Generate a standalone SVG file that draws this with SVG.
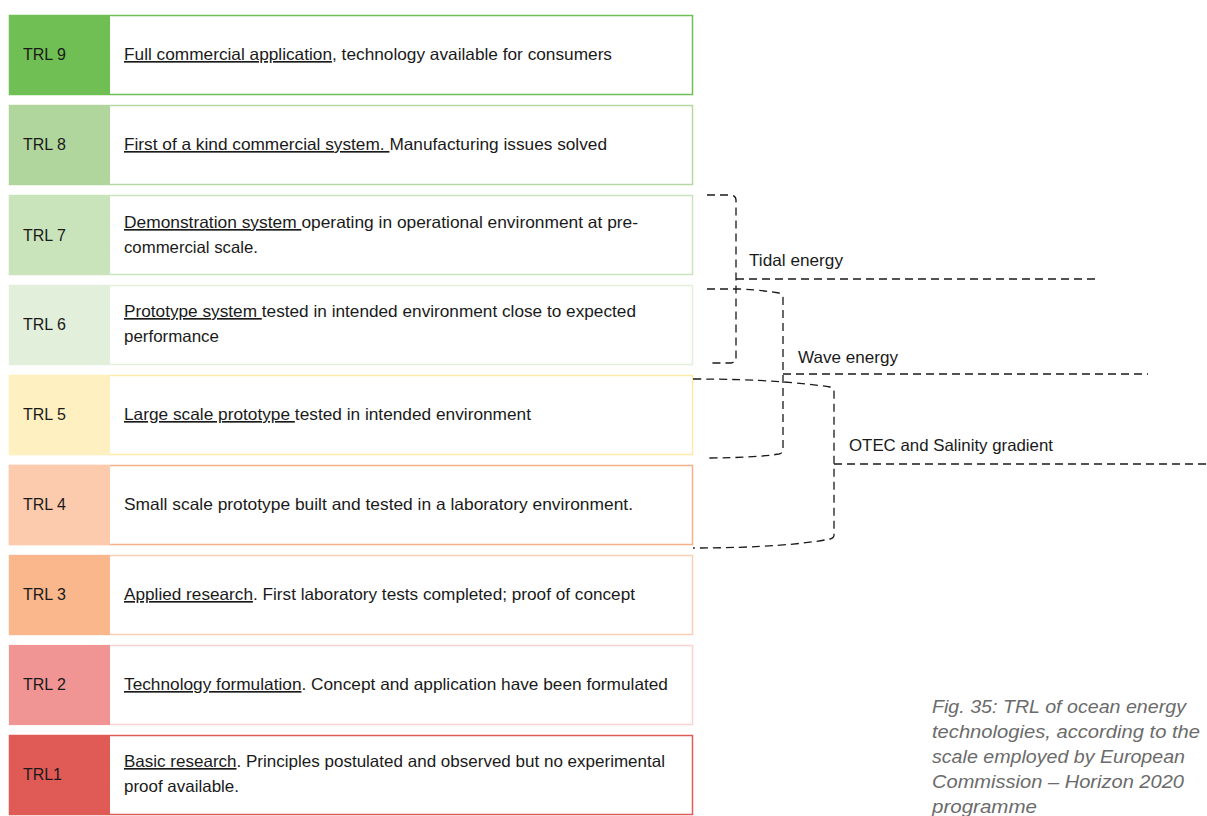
<svg xmlns="http://www.w3.org/2000/svg" width="1207" height="816" viewBox="0 0 1207 816">
<style>
text{font-family:"Liberation Sans",Arial,sans-serif;fill:#1a1a1a}
.lab{font-size:16.5px}
.txt{font-size:16.5px}
.u{text-decoration:underline}
.dash{fill:none;stroke:#1a1a1a;stroke-width:1.3;stroke-dasharray:8 5}
.cap{font-size:19px;font-style:italic;fill:#6b6b6b}
</style>
<rect width="1207" height="816" fill="#ffffff"/>

<g id="trl9">
<rect x="9.5" y="15.5" width="683" height="79" fill="#ffffff" stroke="#70bf54" stroke-width="1.5"/>
<rect x="9" y="15" width="101" height="80" fill="#70bf54"/>
<text class="lab" x="23" y="60" textLength="43" lengthAdjust="spacingAndGlyphs">TRL 9</text>
<text class="txt" x="124" y="60" textLength="488" lengthAdjust="spacingAndGlyphs"><tspan class="u">Full commercial application</tspan>, technology available for consumers</text>
</g>

<g id="trl8">
<rect x="9.5" y="105.5" width="683" height="79" fill="#ffffff" stroke="#b5d8a2" stroke-width="1.5"/>
<rect x="9" y="105" width="101" height="80" fill="#b1d69d"/>
<text class="lab" x="23" y="150" textLength="43" lengthAdjust="spacingAndGlyphs">TRL 8</text>
<text class="txt" x="124" y="150" textLength="483" lengthAdjust="spacingAndGlyphs"><tspan class="u">First of a kind commercial system. </tspan>Manufacturing issues solved</text>
</g>

<g id="trl7">
<rect x="9.5" y="195.5" width="683" height="79" fill="#ffffff" stroke="#c9e4bb" stroke-width="1.5"/>
<rect x="9" y="195" width="101" height="80" fill="#c9e4bb"/>
<text class="lab" x="23" y="241" textLength="43" lengthAdjust="spacingAndGlyphs">TRL 7</text>
<text class="txt" x="124" y="228" textLength="514" lengthAdjust="spacingAndGlyphs"><tspan class="u">Demonstration system </tspan>operating in operational environment at pre-</text>
<text class="txt" x="124" y="253" textLength="134" lengthAdjust="spacingAndGlyphs">commercial scale.</text>
</g>

<g id="trl6">
<rect x="9.5" y="285.5" width="683" height="79" fill="#ffffff" stroke="#e2efda" stroke-width="1.5"/>
<rect x="9" y="285" width="101" height="80" fill="#e2efda"/>
<text class="lab" x="23" y="330" textLength="43" lengthAdjust="spacingAndGlyphs">TRL 6</text>
<text class="txt" x="124" y="317" textLength="512" lengthAdjust="spacingAndGlyphs"><tspan class="u">Prototype system </tspan>tested in intended environment close to expected</text>
<text class="txt" x="124" y="342" textLength="95" lengthAdjust="spacingAndGlyphs">performance</text>
</g>

<g id="trl5">
<rect x="9.5" y="375.5" width="683" height="79" fill="#ffffff" stroke="#ffe9a6" stroke-width="1.5"/>
<rect x="9" y="375" width="101" height="80" fill="#fff0c1"/>
<text class="lab" x="23" y="420" textLength="43" lengthAdjust="spacingAndGlyphs">TRL 5</text>
<text class="txt" x="124" y="420" textLength="407" lengthAdjust="spacingAndGlyphs"><tspan class="u">Large scale prototype </tspan>tested in intended environment</text>
</g>

<g id="trl4">
<rect x="9.5" y="465.5" width="683" height="79" fill="#ffffff" stroke="#f7b08a" stroke-width="1.5"/>
<rect x="9" y="465" width="101" height="80" fill="#fccbad"/>
<text class="lab" x="23" y="510" textLength="43" lengthAdjust="spacingAndGlyphs">TRL 4</text>
<text class="txt" x="124" y="510" textLength="509" lengthAdjust="spacingAndGlyphs">Small scale prototype built and tested in a laboratory environment.</text>
</g>

<g id="trl3">
<rect x="9.5" y="555.5" width="683" height="79" fill="#ffffff" stroke="#fbcfb4" stroke-width="1.5"/>
<rect x="9" y="555" width="101" height="80" fill="#f9b78b"/>
<text class="lab" x="23" y="600" textLength="43" lengthAdjust="spacingAndGlyphs">TRL 3</text>
<text class="txt" x="124" y="600" textLength="511" lengthAdjust="spacingAndGlyphs"><tspan class="u">Applied research</tspan>. First laboratory tests completed; proof of concept</text>
</g>

<g id="trl2">
<rect x="9.5" y="645.5" width="683" height="79" fill="#ffffff" stroke="#fbd3d2" stroke-width="1.5"/>
<rect x="9" y="645" width="101" height="80" fill="#f09594"/>
<text class="lab" x="23" y="690" textLength="43" lengthAdjust="spacingAndGlyphs">TRL 2</text>
<text class="txt" x="124" y="690" textLength="544" lengthAdjust="spacingAndGlyphs"><tspan class="u">Technology formulation</tspan>. Concept and application have been formulated</text>
</g>

<g id="trl1">
<rect x="9.5" y="735.5" width="683" height="79" fill="#ffffff" stroke="#e15b56" stroke-width="1.5"/>
<rect x="9" y="735" width="101" height="80" fill="#e15b56"/>
<text class="lab" x="23" y="780" textLength="39" lengthAdjust="spacingAndGlyphs">TRL1</text>
<text class="txt" x="124" y="767" textLength="541" lengthAdjust="spacingAndGlyphs"><tspan class="u">Basic research</tspan>. Principles postulated and observed but no experimental</text>
<text class="txt" x="124" y="792" textLength="115" lengthAdjust="spacingAndGlyphs">proof available.</text>
</g>

<g id="connectors">
<path class="dash" d="M707,195 L731,195 Q736,196 736,200 V359 Q736,362 731,363 L710,363"/>
<path class="dash" d="M736,279 H1100"/>
<path class="dash" d="M707,289 L740,289 C760,290 772,292 779,293 Q783,294 783,298 V450 Q783,453 779,454 C768,456 740,458 707,458"/>
<path class="dash" d="M783,374 H1148"/>
<path class="dash" d="M693,379 C760,379 805,383 830,387 Q834,388 834,392 V535 Q834,538 830,539 C805,544 760,548 693,548"/>
<path class="dash" d="M834,464 H1207"/>
</g>

<g id="labels">
<text class="txt" x="749" y="266" textLength="94" lengthAdjust="spacingAndGlyphs">Tidal energy</text>
<text class="txt" x="798" y="363" textLength="100" lengthAdjust="spacingAndGlyphs">Wave energy</text>
<text class="txt" x="849" y="451" textLength="204" lengthAdjust="spacingAndGlyphs">OTEC and Salinity gradient</text>
</g>

<g id="caption">
<text class="cap" x="932" y="713" textLength="254" lengthAdjust="spacingAndGlyphs">Fig. 35: TRL of ocean energy</text>
<text class="cap" x="932" y="738" textLength="268" lengthAdjust="spacingAndGlyphs">technologies, according to the</text>
<text class="cap" x="932" y="763" textLength="253" lengthAdjust="spacingAndGlyphs">scale employed by European</text>
<text class="cap" x="932" y="788" textLength="252" lengthAdjust="spacingAndGlyphs">Commission – Horizon 2020</text>
<text class="cap" x="932" y="813" textLength="105" lengthAdjust="spacingAndGlyphs">programme</text>
</g>
</svg>
